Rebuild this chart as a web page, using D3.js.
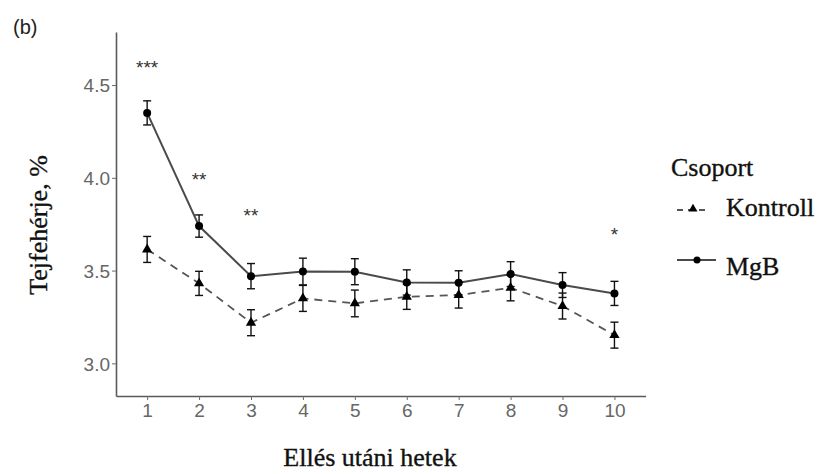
<!DOCTYPE html>
<html>
<head>
<meta charset="utf-8">
<script src="https://cdn.jsdelivr.net/npm/d3@7"></script>
<style>
  body { margin: 0; background: #fff; }
  svg { display: block; }
</style>
</head>
<body>
<svg id="chart" width="819" height="474"></svg>
<script>
'use strict';

// weeks after calving
var weeks = [1, 2, 3, 4, 5, 6, 7, 8, 9, 10];
var mgbMean = [4.35, 3.74, 3.47, 3.495, 3.494, 3.436, 3.434, 3.481, 3.422, 3.377];
var mgbErr = [0.065, 0.06, 0.068, 0.072, 0.07, 0.068, 0.065, 0.067, 0.067, 0.065];
var kontrollMean = [3.614, 3.431, 3.219, 3.35, 3.323, 3.359, 3.368, 3.407, 3.309, 3.152];
var kontrollErr = [0.07, 0.065, 0.07, 0.07, 0.072, 0.068, 0.07, 0.07, 0.07, 0.07];
var yTicks = [3.0, 3.5, 4.0, 4.5];
var sigWeeks = [1, 2, 3, 10];
var sigLabels = ['***', '**', '**', '*'];
var sigY = [4.619, 4.02, 3.826, 3.722];

var svg = d3.select('#chart');

var x = d3.scaleLinear().domain([0.4, 10.6]).range([116, 645.6]);
var y = d3.scaleLinear().domain([2.824, 4.786]).range([396, 32]);

// axes
var yAxis = d3.axisLeft(y).tickValues(yTicks).tickFormat(d3.format('.1f')).tickSize(4).tickSizeOuter(0).tickPadding(2);
var xAxis = d3.axisBottom(x).tickValues(weeks).tickFormat(d3.format('d')).tickSize(4).tickSizeOuter(0).tickPadding(4);

var gy = svg.append('g').attr('transform', 'translate(116,0)').call(yAxis);
var gx = svg.append('g').attr('transform', 'translate(0,396)').call(xAxis);

[gx, gy].forEach(function(g) {
  g.select('.domain').attr('stroke', '#5a5a5a').attr('stroke-width', 1.6);
  g.selectAll('.tick line').attr('stroke', '#6a6a6a').attr('stroke-width', 1);
  g.selectAll('.tick text')
    .attr('fill', '#666')
    .style('font-family', 'Arial, "Liberation Sans", sans-serif')
    .style('font-size', '19px');
});
gy.selectAll('.tick text').attr('dy', '0.36em');

function series(mean, err) {
  return weeks.map(function(w, i) { return { w: w, m: mean[i], e: err[i] }; });
}
var mgb = series(mgbMean, mgbErr);
var kontroll = series(kontrollMean, kontrollErr);

var line = d3.line().x(function(d) { return x(d.w); }).y(function(d) { return y(d.m); });

svg.append('path').datum(kontroll)
  .attr('d', line).attr('fill', 'none')
  .attr('stroke', '#555').attr('stroke-width', 1.8).attr('stroke-dasharray', '8,6');

svg.append('path').datum(mgb)
  .attr('d', line).attr('fill', 'none')
  .attr('stroke', '#4a4a4a').attr('stroke-width', 2);

function errorBars(data) {
  var g = svg.append('g').attr('stroke', '#111').attr('stroke-width', 1.4);
  g.selectAll('line.v').data(data).enter().append('line')
    .attr('x1', function(d) { return x(d.w); }).attr('x2', function(d) { return x(d.w); })
    .attr('y1', function(d) { return y(d.m - d.e); }).attr('y2', function(d) { return y(d.m + d.e); });
  [1, -1].forEach(function(s) {
    g.selectAll('line.c' + s).data(data).enter().append('line')
      .attr('x1', function(d) { return x(d.w) - 4; }).attr('x2', function(d) { return x(d.w) + 4; })
      .attr('y1', function(d) { return y(d.m + s * d.e); }).attr('y2', function(d) { return y(d.m + s * d.e); });
  });
}
errorBars(kontroll);
errorBars(mgb);

var tri = d3.symbol().type(d3.symbolTriangle).size(45);
svg.append('g').selectAll('path').data(kontroll).enter().append('path')
  .attr('d', tri)
  .attr('transform', function(d) { return 'translate(' + x(d.w) + ',' + y(d.m) + ')'; })
  .attr('fill', '#000');

svg.append('g').selectAll('circle').data(mgb).enter().append('circle')
  .attr('cx', function(d) { return x(d.w); })
  .attr('cy', function(d) { return y(d.m); })
  .attr('r', 4).attr('fill', '#000');

// significance stars
svg.append('g').selectAll('text').data(sigWeeks).enter().append('text')
  .attr('x', function(d) { return x(d); })
  .attr('y', function(d, i) { return y(sigY[i]) + 11.5; })
  .attr('text-anchor', 'middle')
  .attr('fill', '#333')
  .style('font-family', 'Arial, "Liberation Sans", sans-serif')
  .style('font-size', '19px')
  .text(function(d, i) { return sigLabels[i]; });

// titles
var serif = '"Liberation Serif", "Times New Roman", serif';
function serifText(sel) {
  return sel.style('font-family', serif).style('font-size', '26px')
    .attr('fill', '#111').attr('stroke', '#111').attr('stroke-width', 0.35);
}

serifText(svg.append('text').attr('x', 370).attr('y', 466).attr('text-anchor', 'middle'))
  .text('Ellés utáni hetek');

serifText(svg.append('text').attr('transform', 'translate(47,225) rotate(-90)').attr('text-anchor', 'middle'))
  .text('Tejfehérje, %');

svg.append('text').attr('x', 13).attr('y', 34)
  .style('font-family', 'Arial, "Liberation Sans", sans-serif').style('font-size', '20px').attr('fill', '#222')
  .text('(b)');

// legend
var leg = svg.append('g');
serifText(leg.append('text').attr('x', 671).attr('y', 176)).text('Csoport');

leg.append('line').attr('x1', 677).attr('x2', 710).attr('y1', 210).attr('y2', 210)
  .attr('stroke', '#555').attr('stroke-width', 1.8).attr('stroke-dasharray', '6,5');
leg.append('path').attr('d', d3.symbol().type(d3.symbolTriangle).size(35))
  .attr('transform', 'translate(693,209)').attr('fill', '#000');
serifText(leg.append('text').attr('x', 726).attr('y', 216)).text('Kontroll');

leg.append('line').attr('x1', 677).attr('x2', 716).attr('y1', 260).attr('y2', 260)
  .attr('stroke', '#4a4a4a').attr('stroke-width', 2);
leg.append('circle').attr('cx', 697).attr('cy', 260).attr('r', 3.5).attr('fill', '#000');
serifText(leg.append('text').attr('x', 726).attr('y', 275)).text('MgB');
</script>
</body>
</html>
